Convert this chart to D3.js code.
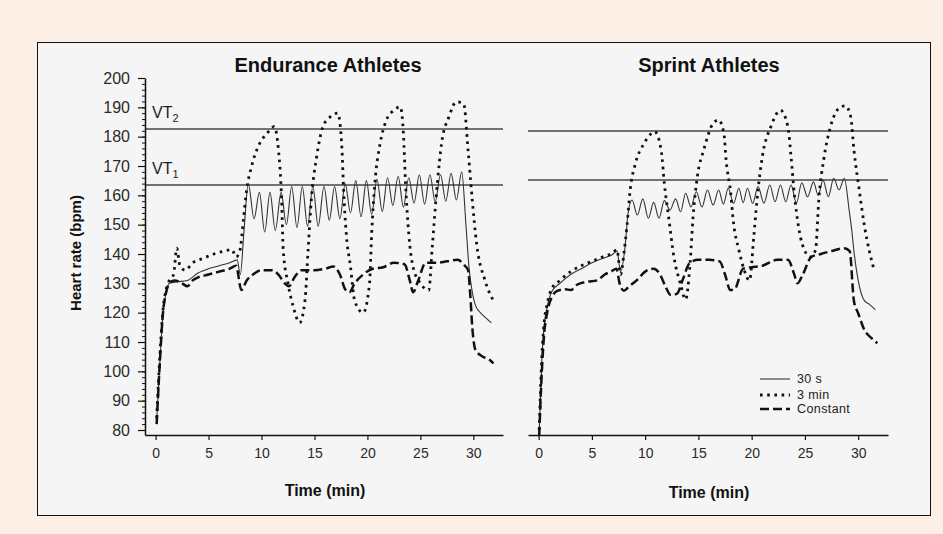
<!DOCTYPE html>
<html>
<head>
<meta charset="utf-8">
<script src="https://cdn.jsdelivr.net/npm/d3@7"></script>
<style>
  body { margin: 0; background: #fcefe6; }
  svg { display: block; font-family: "Liberation Sans", Arial, sans-serif; }
</style>
</head>
<body>
<div id="chart"></div>
<script>
// ---------------------------------------------------------------- datos
const X_TICKS = [0, 5, 10, 15, 20, 25, 30];
const Y_TICKS = [80, 90, 100, 110, 120, 130, 140, 150, 160, 170, 180, 190, 200];
const SERIES = ["30 s", "3 min", "Constant"];

// umbrales ventilatorios [VT2, VT1]
const VT_ENDURANCE = [182.6, 163.5];
const VT_SPRINT = [181.9, 165.2];

// [tiempo (min), frecuencia cardiaca (bpm)]
const endurance30s = [[0.1,83],[0.4,103],[0.7,120],[1.0,127],[1.3,130],[2.0,130.5],[3.0,131],[4.0,133.5],[5.0,135],[6.0,136],[7.0,137],[7.7,138],[8.0,133],[8.35,148],[8.75,164],
  [9.3,152],[9.8,161],[10.3,147.5],[10.8,161],[11.3,148],[11.85,161],[12.35,150],[12.85,163],[13.35,149],[13.85,163],[14.35,149.5],[14.85,163],[15.35,149.5],[15.9,163],[16.4,151.5],[16.9,163],
  [17.4,152],[17.9,164],[18.4,154],[18.9,165],[19.4,152.7],[19.9,165],[20.4,153.5],[20.9,165.5],[21.4,154.5],[21.9,166],[22.4,156.5],[22.9,166.5],[23.4,156],[23.9,166],[24.4,157.3],[24.9,167],
  [25.4,157],[25.9,167],[26.4,157.8],[26.9,167],[27.4,158],[27.9,167.5],[28.4,158.4],[28.9,168],
  [29.3,150],[29.6,135],[29.9,127],[30.2,122.5],[30.8,119.5],[31.4,117.5],[31.7,116.5]];

const endurance3min = [[0.1,84],[0.4,105],[0.7,121],[1.0,128],[1.3,131],[1.7,133],[2.0,142],[2.3,136],[2.8,134.5],[3.5,137],[4.5,138.5],[5.5,140],[6.5,141],[7.2,141.5],[7.6,139],[7.95,141],
  [8.3,152],[8.6,162],[9.0,169],[9.8,177.5],[10.5,181],[11.2,183.4],[11.6,175.5],[11.9,158.4],[12.05,141.4],[12.5,130],[13.0,122],[13.6,116.6],[14.1,124],[14.4,141.4],[14.7,158.4],[15.2,173],
  [15.8,183.4],[16.5,186.8],[17.2,188],[17.6,175.5],[17.75,161.8],[18.0,147],[18.4,135.7],[18.8,124],[19.6,120],[20.2,130],[20.4,147],[20.7,164],[21.2,177.7],[21.8,185.7],[22.5,189],[23.1,190.2],
  [23.4,181],[23.6,164],[23.9,147],[24.3,135.7],[25.0,130],[25.8,127.7],[26.1,141.4],[26.6,164],[27.0,177.7],[27.7,186.8],[28.4,191.9],[29.1,191],[29.5,175.5],[29.9,158.4],[30.3,143.7],[31.1,131],[31.9,124]];

const enduranceConst = [[0.1,82],[0.4,103],[0.7,120],[1.0,127],[1.3,130],[1.8,131],[2.5,130],[3.0,129],[3.5,131],[4.0,132],[5.0,133],[6.0,134],[7.0,135],[7.6,136],[8.1,127.7],[8.6,131],
  [9.2,133],[10.0,134.5],[11.0,134.5],[11.6,133],[12.2,130],[12.6,129],[13.1,132],[13.8,134.5],[15.0,134.5],[16.0,135],[16.8,135.7],[17.4,133],[17.9,128],[18.3,127],[18.8,130],[19.6,133],
  [20.5,135],[21.5,135.5],[22.5,137],[23.5,136.5],[24.0,131],[24.3,127],[24.8,131],[25.5,137],[26.5,137],[27.5,137.5],[28.5,138],[29.2,136],[29.5,134.5],[29.7,126.6],[29.9,115],[30.2,107.3],
  [30.9,105],[31.5,104],[31.9,102.7]];

const sprint30s = [[0.05,79],[0.3,104],[0.5,115],[0.8,122],[1.2,127],[2.0,130],[3.0,133],[4.0,135],[5.0,137],[6.0,138.5],[7.0,140],[7.35,141],[7.7,134],[8.1,142],[8.4,154],[8.77,158.4],
  [9.27,153.3],[9.78,158.8],[10.3,152.2],[10.8,157.6],[11.3,152.2],[11.8,158.2],[12.33,155],[12.86,158.8],[13.33,154.4],[13.8,160.7],[14.3,156],[14.8,161.2],[15.33,156],[15.85,161.8],
  [16.38,156.7],[16.9,161.8],[17.35,157],[17.8,162.4],[18.3,157.3],[18.8,162.4],[19.2,157.5],[19.6,162.4],[20.1,157.3],[20.6,163],[21.15,157.3],[21.7,163.5],[22.2,157.8],[22.7,163.5],
  [23.2,157.8],[23.7,163.5],[24.2,157.3],[24.7,164.3],[25.25,159.5],[25.8,164.6],[26.25,160],[26.7,165.2],[27.2,159.5],[27.7,165.8],[28.2,161.8],[28.7,165.8],
  [29.15,155],[29.4,148],[29.6,141],[30.0,131],[30.6,124],[31.0,123],[31.6,121]];

const sprint3min = [[0.05,80],[0.3,105],[0.5,116],[0.8,123],[1.2,128],[2.0,131],[3.0,134],[4.0,136],[5.0,137.5],[6.0,139],[7.0,140.5],[7.35,141.5],[7.7,133],[8.0,140],[8.3,150],[8.6,162],
  [9.1,171],[9.9,177.7],[10.5,180.8],[10.9,181.7],[11.5,175.5],[11.8,164],[12.2,152.7],[12.7,139],[13.3,130],[13.8,124.5],[14.2,136],[14.5,152.7],[14.9,166.4],[15.5,175.5],[16.4,184.6],
  [16.9,185.7],[17.4,181],[17.6,172],[18.0,161.8],[18.3,150.5],[18.8,141.4],[19.3,134.5],[19.8,131],[20.2,146],[20.5,158.4],[21.0,173.2],[21.8,183.4],[22.7,189],[23.4,183.4],[23.7,173],
  [24.0,160.7],[24.4,149.3],[25.1,140.3],[25.5,139],[26.0,141.4],[26.3,158.4],[26.8,173],[27.4,183.4],[28.4,190.2],[28.8,190.5],[29.3,186.8],[29.6,175.5],[30.1,161.8],[30.6,149.3],[31.5,134.5]];

const sprintConst = [[0.05,78],[0.3,100],[0.5,112],[0.8,120],[1.2,125],[1.8,127.5],[2.5,128],[3.0,127.7],[3.6,129.5],[4.5,130.5],[5.5,131],[6.2,133],[6.8,134],[7.3,135],[7.6,130],[8.0,127.5],
  [8.5,129],[9.2,131],[10.0,134],[10.8,135],[11.4,133],[11.9,129],[12.4,126],[13.0,126.5],[13.5,131],[14.2,137],[15.0,138],[16.0,138],[17.0,137.5],[17.5,133],[18.0,127.7],[18.4,128],
  [19.2,135],[20.0,135.5],[21.0,136],[22.4,138],[23.4,138],[24.0,133],[24.3,130],[24.8,133],[25.6,139],[26.5,140],[27.5,141],[28.7,142],[29.2,141],[29.6,124],[30.0,119.8],[30.6,114],
  [31.2,111.5],[31.8,109.6]];

// ---------------------------------------------------------------- lienzo
const WIDTH = 943;
const HEIGHT = 534;
const SVG = d3.select("#chart").append("svg")
    .attr("width", WIDTH)
    .attr("height", HEIGHT);

SVG.append("rect")
    .attr("width", WIDTH)
    .attr("height", HEIGHT)
    .attr("fill", "#fcefe6");

SVG.append("rect")
    .attr("x", 37.5)
    .attr("y", 42.5)
    .attr("width", 893)
    .attr("height", 473)
    .attr("fill", "#f5f5f5")
    .attr("stroke", "#111")
    .attr("stroke-width", 1);

// estilos de cada serie
const estilos = {
    "30 s": { width: 1.1, dash: null, color: "#333" },
    "3 min": { width: 2.8, dash: "2.6,4.6", color: "#111" },
    "Constant": { width: 2.5, dash: "9,4", color: "#111" }
};

const escalaY = d3.scaleLinear()
    .domain([78.3, 200])
    .range([435, 78]);

function panel(cfg) {
    const escalaX = d3.scaleLinear()
        .domain([-1, 32.8])
        .range([cfg.x0, cfg.x1]);

    const g = SVG.append("g");

    // titulo
    g.append("text")
        .attr("x", cfg.titleX)
        .attr("y", 72)
        .attr("text-anchor", "middle")
        .attr("font-size", "20px")
        .attr("font-weight", "bold")
        .attr("fill", "#111")
        .text(cfg.title);

    // lineas VT
    g.selectAll(".vt")
        .data(cfg.vt)
        .enter()
        .append("line")
        .attr("x1", cfg.x0)
        .attr("x2", cfg.x1)
        .attr("y1", d => escalaY(d))
        .attr("y2", d => escalaY(d))
        .attr("stroke", "#3f4949")
        .attr("stroke-width", 1.5);

    // eje x
    const ejeX = g.append("g")
        .attr("transform", "translate(0,435)")
        .call(d3.axisBottom(escalaX).tickValues(X_TICKS).tickSize(5).tickSizeOuter(0).tickPadding(8));
    ejeX.select(".domain").attr("stroke", "#111").attr("stroke-width", 1.5);
    ejeX.selectAll(".tick line").attr("stroke", "#111").attr("stroke-width", 1.2);
    ejeX.selectAll(".tick text")
        .attr("font-size", "14px")
        .attr("font-family", "Liberation Sans, Arial, sans-serif")
        .attr("fill", "#2a2a2a");

    g.append("text")
        .attr("x", cfg.labelX)
        .attr("y", cfg.labelY)
        .attr("text-anchor", "middle")
        .attr("font-size", "16px")
        .attr("font-weight", "bold")
        .attr("fill", "#111")
        .text("Time (min)");

    if (cfg.yAxis) {
        // marcas menores cada 2 bpm
        g.append("g")
            .attr("transform", `translate(${cfg.x0},0)`)
            .call(d3.axisLeft(escalaY).tickValues(d3.range(80, 201, 2)).tickSize(3).tickFormat(""))
            .call(s => s.select(".domain").remove())
            .selectAll("line").attr("stroke", "#111");

        const ejeY = g.append("g")
            .attr("transform", `translate(${cfg.x0},0)`)
            .call(d3.axisLeft(escalaY).tickValues(Y_TICKS).tickSize(7).tickSizeOuter(0).tickPadding(8));
        ejeY.select(".domain").attr("stroke", "#111").attr("stroke-width", 1.5);
        ejeY.selectAll(".tick line").attr("stroke", "#111").attr("stroke-width", 1.2);
        ejeY.selectAll(".tick text")
            .attr("font-size", "16px")
            .attr("font-family", "Liberation Sans, Arial, sans-serif")
            .attr("fill", "#2a2a2a");

        g.append("text")
            .attr("transform", "translate(81,253) rotate(-90)")
            .attr("text-anchor", "middle")
            .attr("font-size", "15px")
            .attr("font-weight", "bold")
            .attr("fill", "#111")
            .text("Heart rate (bpm)");

        // etiquetas VT2 / VT1
        const etiquetas = g.selectAll(".vtlabel")
            .data(cfg.vt)
            .enter()
            .append("text")
            .attr("x", 152)
            .attr("y", d => escalaY(d) - 11)
            .attr("font-size", "16px")
            .attr("fill", "#222");
        etiquetas.append("tspan").text("VT");
        etiquetas.append("tspan")
            .attr("font-size", "11px")
            .attr("dy", 4)
            .text((d, i) => i === 0 ? "2" : "1");
    }

    // curvas
    const linea = d3.line()
        .x(d => escalaX(d[0]))
        .y(d => escalaY(d[1]))
        .curve(d3.curveMonotoneX);

    cfg.series.forEach((datos, i) => {
        const e = estilos[SERIES[i]];
        g.append("path")
            .datum(datos)
            .attr("d", linea)
            .attr("fill", "none")
            .attr("stroke", e.color)
            .attr("stroke-width", e.width)
            .attr("stroke-dasharray", e.dash);
    });
}

panel({
    x0: 145, x1: 503, title: "Endurance Athletes", titleX: 328,
    labelX: 325, labelY: 496, yAxis: true, vt: VT_ENDURANCE,
    series: [endurance30s, endurance3min, enduranceConst]
});

panel({
    x0: 528, x1: 888, title: "Sprint Athletes", titleX: 709,
    labelX: 709, labelY: 498, yAxis: false, vt: VT_SPRINT,
    series: [sprint30s, sprint3min, sprintConst]
});

// leyenda
const leyenda = SVG.append("g");
const filasY = [379, 395, 409];

leyenda.selectAll("line")
    .data(SERIES)
    .enter()
    .append("line")
    .attr("x1", 760)
    .attr("x2", 790)
    .attr("y1", (d, i) => filasY[i])
    .attr("y2", (d, i) => filasY[i])
    .attr("stroke", d => estilos[d].color)
    .attr("stroke-width", d => estilos[d].width)
    .attr("stroke-dasharray", d => estilos[d].dash);

leyenda.selectAll("text")
    .data(SERIES)
    .enter()
    .append("text")
    .attr("x", 797)
    .attr("y", (d, i) => filasY[i] + 4)
    .attr("font-size", "12.5px")
    .attr("letter-spacing", "0.4px")
    .attr("fill", "#222")
    .text(d => d);
</script>
</body>
</html>
